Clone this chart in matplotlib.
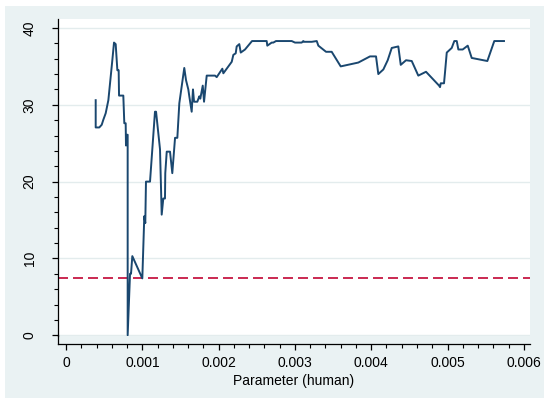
import matplotlib
matplotlib.use("Agg")
import matplotlib.pyplot as plt
from matplotlib.patches import Rectangle
from matplotlib.lines import Line2D
from matplotlib.ticker import MultipleLocator, FuncFormatter

# parameter values (in units of 0.001) and corresponding outcome values
param_k = [0.389, 0.389, 0.436, 0.468, 0.489, 0.520, 0.555, 0.577, 0.607, 0.629,
           0.651, 0.673, 0.690, 0.695, 0.751, 0.764, 0.782, 0.786, 0.799, 0.808,
           0.808, 0.839, 0.852, 0.869, 1.000, 1.026, 1.039, 1.048, 1.101, 1.166,
           1.180, 1.232, 1.254, 1.275, 1.297, 1.301, 1.320, 1.363, 1.393, 1.429,
           1.459, 1.485, 1.550, 1.573, 1.603, 1.616, 1.647, 1.664, 1.678, 1.721,
           1.747, 1.760, 1.792, 1.809, 1.844, 1.953, 1.975, 2.049, 2.062, 2.172,
           2.193, 2.224, 2.237, 2.271, 2.290, 2.346, 2.438, 2.630, 2.638, 2.696,
           2.717, 2.752, 2.958, 3.001, 3.089, 3.110, 3.119, 3.220, 3.286, 3.307,
           3.408, 3.482, 3.600, 3.831, 3.984, 4.063, 4.093, 4.159, 4.216, 4.269,
           4.355, 4.387, 4.456, 4.531, 4.617, 4.718, 4.889, 4.902, 4.911, 4.954,
           4.967, 4.990, 5.055, 5.089, 5.121, 5.142, 5.199, 5.265, 5.317, 5.522,
           5.613, 5.740]
values = [30.6, 27.05, 27.05, 27.4, 28.05, 28.9, 30.6, 32.8, 35.8, 38.1,
          37.9, 34.5, 34.5, 31.2, 31.2, 27.6, 27.6, 24.7, 26.1, 26.1,
          0.0, 8.0, 8.0, 10.3, 7.4, 15.5, 14.6, 20.0, 20.0, 29.1,
          29.1, 24.2, 15.7, 17.8, 17.8, 21.1, 23.9, 23.9, 21.1, 25.7,
          25.7, 30.2, 34.8, 33.2, 32.0, 31.1, 29.1, 32.0, 30.4, 30.4,
          31.1, 30.8, 32.5, 30.4, 33.8, 33.8, 33.6, 34.7, 34.1, 35.6,
          36.5, 36.7, 37.6, 37.9, 36.8, 37.2, 38.3, 38.3, 37.7, 38.1,
          38.1, 38.3, 38.3, 38.1, 38.1, 38.3, 38.2, 38.2, 38.3, 37.7,
          36.9, 36.9, 35.0, 35.5, 36.3, 36.3, 34.0, 34.6, 35.8, 37.4,
          37.6, 35.2, 35.8, 35.7, 33.8, 34.3, 32.5, 32.3, 32.8, 32.8,
          34.2, 36.8, 37.4, 38.3, 38.3, 37.2, 37.2, 37.7, 36.1, 35.7,
          38.3, 38.3]
threshold = 7.4
x_ticks = [0, 0.001, 0.002, 0.003, 0.004, 0.005, 0.006]
y_ticks = [0, 10, 20, 30, 40]
x_label = "Parameter (human)"

param = [v / 1000.0 for v in param_k]

plt.rcParams['font.family'] = ['Liberation Sans', 'DejaVu Sans']

W, H = 550, 405
fig = plt.figure(figsize=(5.5, 4.05), dpi=100, facecolor='white')
bg = '#EAF2F3'
rect = Rectangle((5 / W, 1 - 398 / H), 539 / W, 392 / H,
                 transform=fig.transFigure, facecolor=bg,
                 edgecolor='none', zorder=-10)
fig.patches.append(rect)

ax = fig.add_axes([58 / W, 1 - 336 / H, 472 / W, 317 / H])
ax.set_zorder(1)
ax.set_facecolor('white')

ax.set_xlim(-0.000105, 0.006081)
ax.set_ylim(-0.1, 41.17)

ax.set_yticks(y_ticks)
ax.set_xticks(x_ticks)
ax.xaxis.set_minor_locator(MultipleLocator(0.0002))
ax.yaxis.set_minor_locator(MultipleLocator(2))
ax.xaxis.set_major_formatter(FuncFormatter(lambda v, p: '0' if abs(v) < 1e-12 else f'{v:.3f}'))

ax.grid(axis='y', which='major', color='#E3ECED', linewidth=1.0)
ax.set_axisbelow(True)

ax.plot(param, values, color='#1A476F', linewidth=1.4, zorder=3)
ax.axhline(threshold, color='#C10534', linewidth=1.2, dashes=(6.0, 3.0), zorder=2)

for s in ['top', 'right']:
    ax.spines[s].set_visible(False)
ax.spines['bottom'].set_position(('outward', 5.76))
for s in ['left', 'bottom']:
    ax.spines[s].set_linewidth(0.9)
    ax.spines[s].set_color('black')

fig.lines.append(Line2D([58 / W, 58 / W], [1 - 343.5 / H, 1 - 335 / H],
                        transform=fig.transFigure, color='black', linewidth=0.9,
                        zorder=5))

ax.tick_params(axis='both', which='major', direction='out', length=4.3, width=0.9,
               labelsize=10, colors='black')
ax.tick_params(axis='both', which='minor', direction='out', length=2.6, width=0.8,
               colors='black')
ax.tick_params(axis='y', which='major', pad=11)
ax.tick_params(axis='x', which='major', pad=4)
for lbl in ax.get_yticklabels():
    lbl.set_rotation(90)
    lbl.set_va('center')

ax.set_xlabel(x_label, fontsize=10, labelpad=3)

fig.savefig('out.png', dpi=100, facecolor='white')
